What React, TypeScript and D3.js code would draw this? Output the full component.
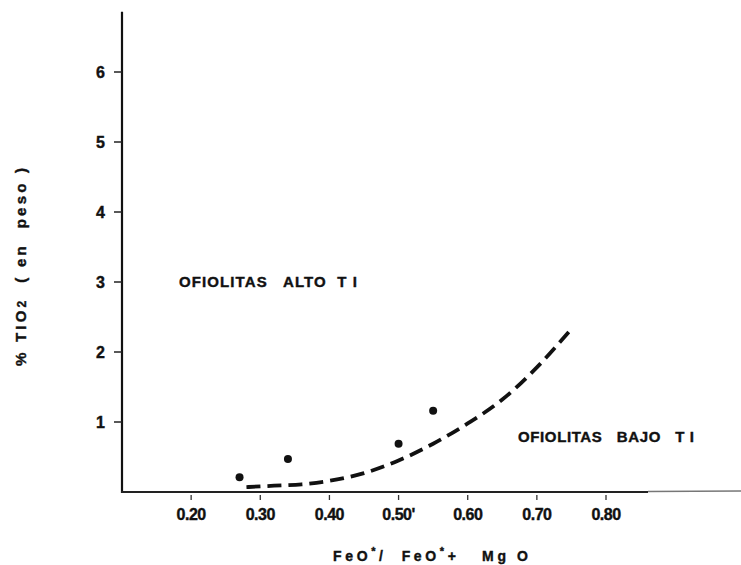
import React from 'react';
import * as d3 from 'd3';

// values
const xTicks = [0.2, 0.3, 0.4, 0.5, 0.6, 0.7, 0.8];
const xTickLabels = ['0.20', '0.30', '0.40', "0.50'", '0.60', '0.70', '0.80'];
const yTicks = [1, 2, 3, 4, 5, 6];
const pointX = [0.27, 0.34, 0.5, 0.55];
const pointY = [0.21, 0.47, 0.69, 1.16];
const curveX = [0.28, 0.32, 0.36, 0.4, 0.45, 0.5, 0.55, 0.6, 0.65, 0.7, 0.75];
const curveY = [0.07, 0.09, 0.11, 0.16, 0.27, 0.45, 0.69, 0.98, 1.32, 1.78, 2.33];

const W = 741;
const H = 565;
const FONT = "'Liberation Sans', Arial, sans-serif";

export default function App() {
  // set up scales
  const x = d3.scaleLinear().domain([0.1, 0.8]).range([122, 606]);
  const y = d3.scaleLinear().domain([0, 6]).range([492, 72]);

  const curve = curveX.map((d, i) => [d, curveY[i]] as [number, number]);
  const line = d3
    .line<[number, number]>()
    .x(d => x(d[0]))
    .y(d => y(d[1]))
    .curve(d3.curveMonotoneX);

  const x0 = x(0.1);
  const y0 = y(0);

  // heavy print look
  const ink = { fill: '#111', stroke: '#111', strokeWidth: 0.4, fontWeight: 'bold' as const };

  return (
    <svg
      width={W}
      height={H}
      style={{ position: 'absolute', left: 0, top: 0, background: '#fff' }}
      fontFamily={FONT}
    >
      {/* Y axis */}
      <line x1={x0} x2={x0} y1={y(6.86)} y2={y0 + 1} stroke="#111" strokeWidth={2.2} />
      {yTicks.map(t => (
        <g key={t}>
          <line x1={x0 - 8} x2={x0} y1={y(t)} y2={y(t)} stroke="#222" strokeWidth={1.5} />
          <text x={105} y={y(t)} dy="0.36em" textAnchor="end" fontSize={16} {...ink}>
            {t}
          </text>
        </g>
      ))}

      {/* X axis */}
      <line x1={x0 - 1} x2={648} y1={y0} y2={y0} stroke="#222" strokeWidth={2} />
      <line x1={648} x2={W} y1={y0 - 0.5} y2={y0 - 1} stroke="#777" strokeWidth={1.5} />
      {xTicks.map((t, i) => (
        <g key={t}>
          <line x1={x(t)} x2={x(t)} y1={y0 + 3} y2={y0 + 8} stroke="#333" strokeWidth={1.3} />
          <text x={x(t)} y={520} textAnchor="middle" fontSize={16} letterSpacing={-0.5} {...ink}>
            {xTickLabels[i]}
          </text>
        </g>
      ))}

      {/* dashed boundary curve */}
      <path
        d={line(curve) || ''}
        fill="none"
        stroke="#111"
        strokeWidth={3.8}
        strokeDasharray="14 7"
      />

      {/* samples */}
      {pointX.map((d, i) => (
        <circle key={i} cx={x(d)} cy={y(pointY[i])} r={4} fill="#111" />
      ))}

      {/* region labels */}
      <text
        x={179}
        y={y(3)}
        dy="0.36em"
        fontSize={15}
        {...ink}
        textLength={178}
        lengthAdjust="spacing"
        style={{ whiteSpace: 'pre' }}
      >
        {'OFIOLITAS   ALTO  T I'}
      </text>
      <text
        x={518}
        y={437}
        dy="0.36em"
        fontSize={15}
        {...ink}
        textLength={176}
        lengthAdjust="spacing"
        style={{ whiteSpace: 'pre' }}
      >
        {'OFIOLITAS   BAJO   T I'}
      </text>

      {/* axis titles */}
      <text
        x={333}
        y={561}
        fontSize={14}
        {...ink}
        textLength={195}
        lengthAdjust="spacing"
        style={{ whiteSpace: 'pre' }}
      >
        FeO<tspan fontSize={11} dy={-6}>*</tspan>
        <tspan dy={6}>{'/  FeO'}</tspan>
        <tspan fontSize={11} dy={-6}>*</tspan>
        <tspan dy={6}>{'+   Mg O'}</tspan>
      </text>
      <text
        transform="translate(26,366) rotate(-90)"
        fontSize={15}
        {...ink}
        textLength={198}
        lengthAdjust="spacing"
        style={{ whiteSpace: 'pre' }}
      >
        % TIO<tspan fontSize={12}>2</tspan>
        {'  ( en  peso )'}
      </text>
    </svg>
  );
}
